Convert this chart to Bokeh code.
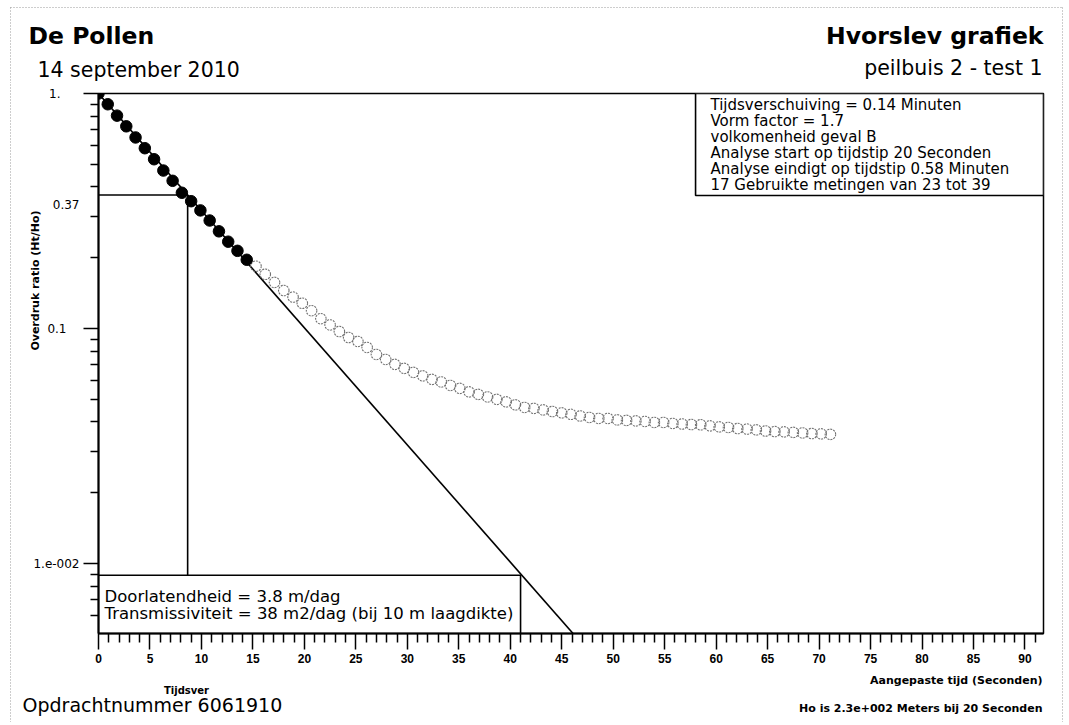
import math
from bokeh.plotting import figure
from bokeh.models import FixedTicker, Label, BoxAnnotation, Range1d
from bokeh.layouts import column, row
from bokeh.embed import file_html
from bokeh.resources import INLINE

# ---------------- data ----------------
filled_t = [0.0, 0.9, 1.8, 2.7, 3.6, 4.5, 5.4, 6.3, 7.2, 8.1, 9.0, 9.9, 10.8,
            11.7, 12.6, 13.5, 14.4]
filled_ratio = [1.0, 0.90, 0.805, 0.725, 0.65, 0.585, 0.525, 0.47, 0.425, 0.378,
                0.348, 0.318, 0.288, 0.259, 0.234, 0.214, 0.196]

hollow_t = [15.3, 16.2, 17.1, 18.0, 18.9, 19.8, 20.7, 21.6, 22.5, 23.4, 24.3,
            25.2, 26.1, 27.0, 27.9, 28.8, 29.7, 30.6, 31.5, 32.4, 33.3, 34.2,
            35.1, 36.0, 36.9, 37.8, 38.7, 39.6, 40.5, 41.4, 42.3, 43.2, 44.1,
            45.0, 45.9, 46.8, 47.7, 48.6, 49.5, 50.4, 51.3, 52.2, 53.1, 54.0,
            54.9, 55.8, 56.7, 57.6, 58.5, 59.4, 60.3, 61.2, 62.1, 63.0, 63.9,
            64.8, 65.7, 66.6, 67.5, 68.4, 69.3, 70.2, 71.1]
hollow_ratio = [0.184, 0.170, 0.157, 0.145, 0.136, 0.128, 0.119, 0.110, 0.1035,
                0.097, 0.0915, 0.088, 0.083, 0.0775, 0.0738, 0.0703, 0.0676,
                0.065, 0.0628, 0.0607, 0.0592, 0.0572, 0.0556, 0.0537, 0.0524,
                0.0511, 0.0499, 0.0487, 0.0473, 0.0461, 0.0457, 0.045, 0.0443,
                0.0437, 0.0431, 0.0424, 0.0418, 0.0414, 0.0414, 0.0408, 0.0406,
                0.0404, 0.0402, 0.0398, 0.0398, 0.0394, 0.0392, 0.039, 0.0389,
                0.0385, 0.0381, 0.0379, 0.0375, 0.0373, 0.037, 0.0366, 0.0364,
                0.0363, 0.0361, 0.0359, 0.0357, 0.0356, 0.0354]

fit_t = [0.0, 46.1]
fit_ratio = [1.0, 0.00503]
t_e = 8.66          # time at which the fit reaches 0.37
ratio_e = 0.37
result_box_top = 0.0089
result_box_right = 41.0
info_box_left = 58.0
info_box_bottom = 0.368

x_major = [0, 5, 10, 15, 20, 25, 30, 35, 40, 45, 50, 55, 60, 65, 70, 75, 80, 85, 90]
x_minor = [i for i in range(0, 93) if i % 5]
y_major = [0.01, 0.1, 1.0]
y_minor = [0.006, 0.007, 0.008, 0.009,
           0.02, 0.03, 0.04, 0.05, 0.06, 0.07, 0.08, 0.09,
           0.2, 0.3, 0.4, 0.5, 0.6, 0.7, 0.8, 0.9]
y_tick_labels = ["1.", "0.37", "0.1", "1.e-002"]
y_tick_values = [1.0, 0.37, 0.1, 0.01]

info_lines = ["Tijdsverschuiving = 0.14 Minuten",
              "Vorm factor = 1.7",
              "volkomenheid geval B",
              "Analyse start op tijdstip 20 Seconden",
              "Analyse eindigt op tijdstip 0.58 Minuten",
              "17 Gebruikte metingen van 23 tot 39"]
result_lines = ["Doorlatendheid = 3.8 m/dag",
                "Transmissiviteit = 38 m2/dag (bij 10 m laagdikte)"]

# ---------------- page geometry (pixels) ----------------
W = 1066
HEAD_H = 83                 # header strip 0..83
MID_H = 590                 # plot row 83..673
FOOT_H = 49                 # footer strip 673..722
LEFT_W = 80                 # y-label strip
FRAME_L, FRAME_R, FRAME_T, FRAME_B = 98, 1043, 93, 633
RIGHT_GAP = 2
RIGHT_W = W - FRAME_R - RIGHT_GAP
X_MAX, Y_MIN, Y_MAX = 91.8, 0.00503, 1.0
PAGE_L, PAGE_R, PAGE_T = 10, 1062, 7     # faint scanned page border

FONT = "DejaVu Sans"
BORDER = dict(line_color="#9a9a9a", line_width=1, line_dash="1 2")


def blank(f):
    f.grid.visible = False
    f.outline_line_color = None
    f.background_fill_color = "white"
    f.border_fill_color = "white"
    f.frame_align = False
    return f


def text_fig(w, h, y0, x0=0):
    """blank figure whose data units are page pixels (y downward)"""
    f = figure(width=w, height=h, x_range=Range1d(x0, x0 + w), y_range=Range1d(y0 + h, y0),
               x_axis_location=None, y_axis_location=None,
               output_backend="svg", toolbar_location=None,
               min_border=0, min_border_left=0, min_border_right=0,
               min_border_top=0, min_border_bottom=0)
    return blank(f)


def put(f, text, x, y, size, bold=False, align="left", angle=0.0):
    f.add_layout(Label(x=x, y=y, text=text, text_font=FONT, text_font_size=size,
                       text_font_style="bold" if bold else "normal",
                       text_align=align, text_baseline="middle", angle=angle,
                       text_color="black"))


# ---------------- header ----------------
head = text_fig(W, HEAD_H, 0)
head.line([PAGE_L, PAGE_R], [PAGE_T, PAGE_T], **BORDER)
head.line([PAGE_L, PAGE_L], [PAGE_T, HEAD_H], **BORDER)
head.line([PAGE_R, PAGE_R], [PAGE_T, HEAD_H], **BORDER)
put(head, "De Pollen", 28, 35, "23.5px", bold=True)
put(head, "14 september 2010", 37, 69, "20.5px")
put(head, "Hvorslev grafiek", 1043, 35, "23.5px", bold=True, align="right")
put(head, "peilbuis 2 - test 1", 1042, 67, "20.5px", align="right")

# ---------------- main plot ----------------
main_w = W - LEFT_W - RIGHT_W
p = figure(width=main_w, height=MID_H, y_axis_type="log",
           x_range=Range1d(0, X_MAX), y_range=Range1d(Y_MIN, Y_MAX),
           output_backend="svg", toolbar_location=None,
           min_border_left=FRAME_L - LEFT_W, min_border_right=RIGHT_GAP,
           min_border_top=FRAME_T - HEAD_H, min_border_bottom=HEAD_H + MID_H - FRAME_B)
p.grid.visible = False
p.outline_line_color = "black"
p.outline_line_width = 1.5
p.background_fill_color = "white"
p.border_fill_color = "white"
p.frame_align = False

xa = p.xaxis[0]
xa.ticker = FixedTicker(ticks=x_major, minor_ticks=x_minor)
xa.axis_line_width = 2
xa.axis_line_color = "black"
xa.major_tick_in = 0
xa.major_tick_out = 16
xa.minor_tick_in = 0
xa.minor_tick_out = 9
xa.major_tick_line_width = 1.5
xa.minor_tick_line_width = 1.5
xa.major_tick_line_color = "black"
xa.minor_tick_line_color = "black"
xa.major_label_text_font = "Liberation Sans"
xa.major_label_text_font_style = "bold"
xa.major_label_text_font_size = "12px"
xa.major_label_text_color = "black"
xa.major_label_standoff = 4

ya = p.yaxis[0]
ya.ticker = FixedTicker(ticks=y_major, minor_ticks=y_minor)
ya.axis_line_width = 2
ya.axis_line_color = "black"
ya.major_tick_in = 0
ya.major_tick_out = 15
ya.minor_tick_in = 0
ya.minor_tick_out = 8
ya.major_tick_line_width = 1.5
ya.minor_tick_line_width = 1.5
ya.major_tick_line_color = "black"
ya.minor_tick_line_color = "black"
ya.major_label_text_font_size = "0px"
ya.major_label_text_color = None
ya.major_label_standoff = 0

# boxes (under the lines/texts)
p.add_layout(BoxAnnotation(left=info_box_left, right=X_MAX, bottom=info_box_bottom, top=Y_MAX,
                           fill_color="white", fill_alpha=1.0, line_alpha=1.0,
                           line_color="black", line_width=1.6, level="underlay"))
p.add_layout(BoxAnnotation(left=0, right=result_box_right, bottom=Y_MIN, top=result_box_top,
                           fill_color="white", fill_alpha=1.0, line_alpha=1.0,
                           line_color="black", line_width=1.6, level="underlay"))

p.line(fit_t, fit_ratio, line_color="black", line_width=1.6)
p.line([0, t_e], [ratio_e, ratio_e], line_color="black", line_width=1.6)
p.line([t_e, t_e], [ratio_e, result_box_top], line_color="black", line_width=1.6)

p.scatter(hollow_t, hollow_ratio, size=10.5, fill_color=None,
          line_color="#707070", line_width=1.1, line_dash="2 1")
p.scatter(filled_t, filled_ratio, size=11.5, fill_color="black", line_color="black")


def put_main(text, rx, ry, size):
    p.add_layout(Label(x=rx - FRAME_L, y=FRAME_B - ry, x_units="screen", y_units="screen",
                       text=text, text_font=FONT, text_font_size=size,
                       text_align="left", text_baseline="middle", text_color="black"))


for txt, ry in zip(info_lines, [104, 120, 136, 152, 168, 184]):
    put_main(txt, 710, ry, "15px")
for txt, ry in zip(result_lines, [596, 613]):
    put_main(txt, 104, ry, "16.5px")

# ---------------- left strip: y tick labels + y title ----------------
dec_px = (FRAME_B - FRAME_T) / (math.log10(Y_MAX) - math.log10(Y_MIN))
left_top = 10 ** (math.log10(Y_MAX) + (FRAME_T - HEAD_H) / dec_px)
left_bot = 10 ** (math.log10(Y_MIN) - (HEAD_H + MID_H - FRAME_B) / dec_px)
left = figure(width=LEFT_W, height=MID_H, y_axis_type="log",
              x_range=Range1d(0, LEFT_W), y_range=Range1d(left_bot, left_top),
              x_axis_location=None, y_axis_location=None,
              output_backend="svg", toolbar_location=None,
              min_border=0, min_border_left=0, min_border_right=0,
              min_border_top=0, min_border_bottom=0)
blank(left)
left.line([PAGE_L, PAGE_L], [left_bot, left_top], **BORDER)

for txt, v, rx in zip(y_tick_labels, y_tick_values, [60, 79, 66, 79]):
    dy = -10 if txt == "0.37" else 0
    left.add_layout(Label(x=rx, y=v, x_units="data", y_units="data", y_offset=dy,
                          text=txt, text_font=FONT, text_font_size="12px",
                          text_align="right", text_baseline="middle", text_color="black"))
left.add_layout(Label(x=35, y=HEAD_H + MID_H - 280, x_units="screen", y_units="screen",
                      text="Overdruk ratio (Ht/Ho)", text_font=FONT, text_font_size="11px",
                      text_font_style="bold", text_align="center", text_baseline="middle",
                      angle=math.pi / 2, text_color="black"))

# ---------------- right strip (page border only) ----------------
right = text_fig(RIGHT_W, MID_H, HEAD_H, x0=FRAME_R + RIGHT_GAP)
right.line([PAGE_R, PAGE_R], [HEAD_H, HEAD_H + MID_H], **BORDER)

# ---------------- footer ----------------
foot_top = HEAD_H + MID_H
foot = text_fig(W, FOOT_H, foot_top)
foot.line([PAGE_L, PAGE_L], [foot_top, foot_top + FOOT_H], **BORDER)
foot.line([PAGE_R, PAGE_R], [foot_top, foot_top + FOOT_H], **BORDER)
put(foot, "Aangepaste tijd (Seconden)", 1042, 680, "11px", bold=True, align="right")
put(foot, "Tijdsver", 186, 690, "10px", bold=True, align="center")
put(foot, "Opdrachtnummer 6061910", 22, 704, "19px")
put(foot, "Ho is 2.3e+002 Meters bij 20 Seconden", 1042, 708, "11px", bold=True, align="right")

layout = column(head, row(left, p, right), foot)
open("out.html", "w").write(file_html(layout, INLINE))
